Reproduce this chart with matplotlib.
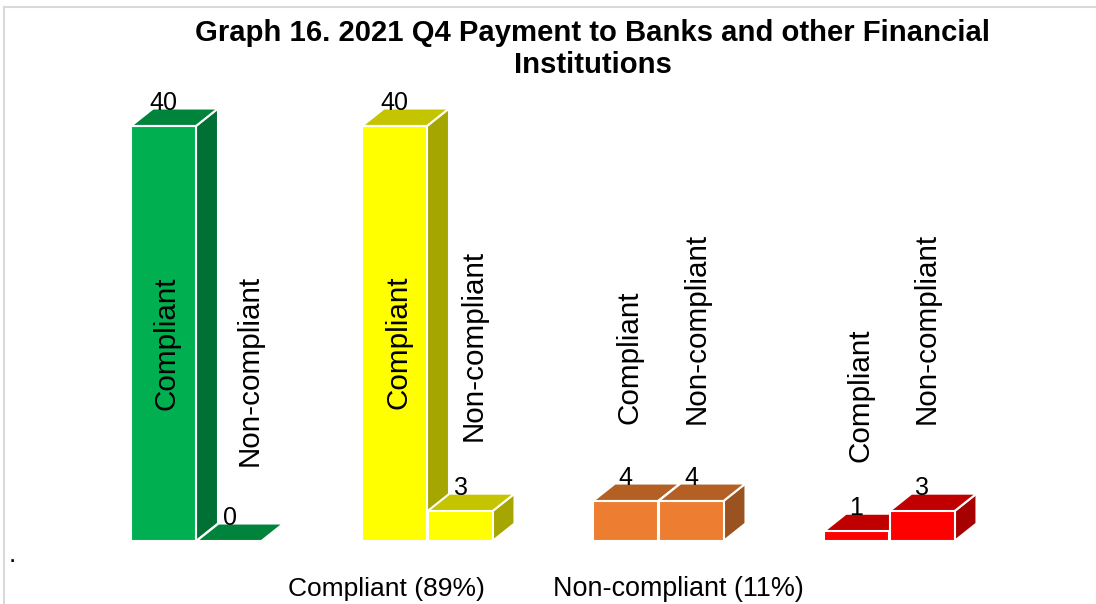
import numpy as np
import matplotlib
matplotlib.use("Agg")
import matplotlib.pyplot as plt
from matplotlib.patches import Polygon
from matplotlib.transforms import IdentityTransform

plt.rcParams['font.family'] = ['Liberation Sans', 'DejaVu Sans']

title = "Graph 16. 2021 Q4 Payment to Banks and other Financial\nInstitutions"
series = ["Compliant", "Non-compliant"]
group_1 = [40, 0]
group_2 = [40, 3]
group_3 = [4, 4]
group_4 = [1, 3]
groups = [group_1, group_2, group_3, group_4]
legend_labels = ["Compliant (89%)", "Non-compliant (11%)"]

front = ["#00B050", "#FFFF00", "#ED7D31", "#FF0000"]
side = ["#007034", "#A6A600", "#9A5220", "#A60000"]
top = ["#00843C", "#C4C400", "#B46024", "#C00000"]

W, H = 1096, 604
DX, DY = 22, 17.5
# pixel centre offsets of rotated labels from the bar, and vertical centre
rot_y = [[343.5, 370], [342.5, 345.5], [357.5, 328.5], [395.5, 328.5]]
rot_dx = [[3, 21], [4, 14], [4, 6], [4, 5]]
value_dx = [[0, 1], [0, 1], [0, 0], [0, 0]]

fig = plt.figure(figsize=(W / 100, H / 100), dpi=100)
ax = fig.add_axes([130.5 / W, (H - 541) / H, 824.5 / W, 440 / H])
ax.axis("off")
p = 1.016
ax.set_yscale("function", functions=(lambda v: np.sign(v) * np.abs(v) ** p,
                                     lambda v: np.sign(v) * np.abs(v) ** (1 / p)))
slot_w = 65.5
x_slots = [[g * 231 / slot_w + b for b in (0, 1)] for g in range(4)]
ax.set_xlim(0, 824.5 / slot_w)
ax.set_ylim(0, (440 / 40) ** (1 / p) * 4)

idt = IdentityTransform()


def poly(pts, color, z):
    ax.add_patch(Polygon(np.array(pts), closed=True, facecolor=color, edgecolor="white",
                         linewidth=1.5, transform=idt, zorder=z, clip_on=False))


z = 2
for g, vals in enumerate(groups):
    for b, v in enumerate(vals):
        x0 = x_slots[g][b]
        (l, y0), (r, y1) = ax.transData.transform([(x0, 0), (x0 + 1, v)])
        l += 0.5
        poly([(r, y0), (r + DX, y0 + DY), (r + DX, y1 + DY), (r, y1)], side[g], z)
        poly([(l, y1), (r, y1), (r + DX, y1 + DY), (l + DX, y1 + DY)], top[g], z + 0.1)
        if v > 0:
            poly([(l, y0), (r, y0), (r, y1), (l, y1)], front[g], z + 0.2)
        z += 1
        cx = (l + r) / 2
        ax.text(cx + value_dx[g][b], y1 + 23, str(v), transform=idt, ha="center", va="center",
                fontsize=18, color="black", zorder=50)
        ax.text(cx + rot_dx[g][b], H - rot_y[g][b], series[b], transform=idt, rotation=90,
                ha="center", va="center", fontsize=21.3, color="black", zorder=50)

fig.text(592.5 / W, 1 - 49 / H, title, ha="center", va="center", fontsize=21.1,
         fontweight="bold", color="black", linespacing=1.15)
fig.text(386 / W, 1 - 589 / H, legend_labels[0], ha="center", va="center", fontsize=19)
fig.text(678.5 / W, 1 - 589 / H, legend_labels[1], ha="center", va="center", fontsize=19.4)
fig.text(12 / W, 1 - 555 / H, ".", ha="center", va="center", fontsize=19)

# outer frame
for xs, ys in [((4, 1096), (7, 7)), ((4, 4), (7, 604))]:
    fig.add_artist(plt.Line2D(np.array(xs) / W, 1 - np.array(ys) / H, color="#D9D9D9", lw=1.5))

fig.savefig("out.png", dpi=100)
